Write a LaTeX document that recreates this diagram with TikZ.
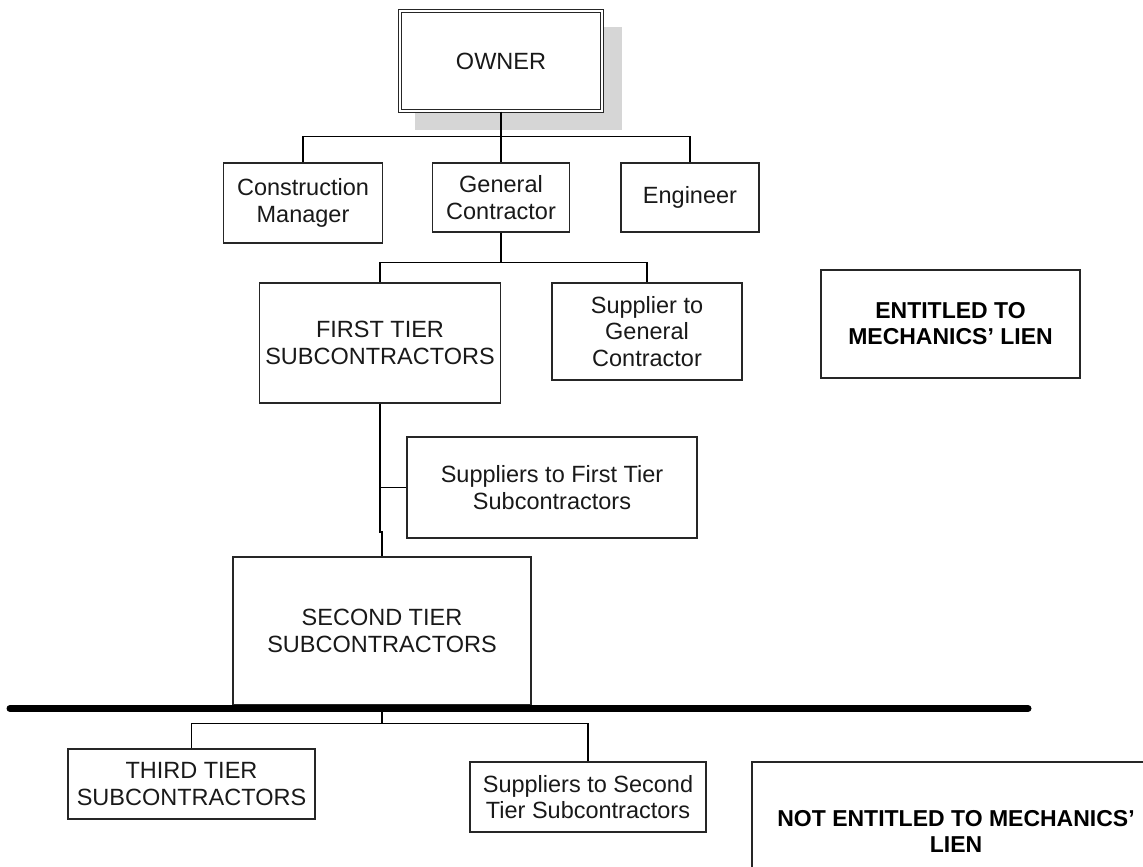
\documentclass[tikz,border=0pt]{standalone}
\usepackage{fontspec}
\setmainfont{Liberation Sans}
\begin{document}
\begin{tikzpicture}[x=1pt,y=-1pt,
  box/.style={draw=black!85, line width=1.2pt, fill=white, inner sep=0pt, align=center,
    text=black!90, font=\fontsize{23.5}{26.5}\selectfont},
  boldbox/.style={box, text=black, font=\fontsize{23}{26}\selectfont\bfseries},
  conn/.style={draw=black, line width=1.2pt},
  divider/.style={draw=black, line width=7pt, line cap=round}]
\useasboundingbox (0,0) rectangle (1143,867);
% shadow of the owner box
\fill[black!16] (415,27) rectangle (622,130);
\node[box, double, double distance=1.8pt, minimum width=202pt, minimum height=100pt] (owner) at (501,61) {OWNER};

\node[box, minimum width=159pt, minimum height=80pt] (cm) at (303,203) {Construction\\Manager};
\node[box, minimum width=137pt, minimum height=69pt] (gc) at (501,197.5) {General\\Contractor};
\node[box, minimum width=138pt, minimum height=69pt] (eng) at (690,197.5) {Engineer};

\node[box, minimum width=241pt, minimum height=120pt] (ft) at (380,343) {FIRST TIER\\SUBCONTRACTORS};
\node[box, minimum width=190pt, minimum height=97pt] (sgc) at (647,331.5) {Supplier to\\General\\Contractor};
\node[box, minimum width=290pt, minimum height=101pt] (sft) at (552,487.5) {Suppliers to First Tier\\Subcontractors};
\node[box, minimum width=298pt, minimum height=148pt] (st) at (382,631) {SECOND TIER\\SUBCONTRACTORS};

\node[box, minimum width=247pt, minimum height=70pt] (tt) at (191.5,784) {THIRD TIER\\SUBCONTRACTORS};
\node[box, minimum width=236pt, minimum height=70pt] (sst) at (588,797) {Suppliers to Second\\Tier Subcontractors};

\node[boldbox, minimum width=259pt, minimum height=108pt] (ent) at (950.5,324) {ENTITLED TO\\MECHANICS' LIEN};
\node[boldbox, minimum width=408pt, minimum height=138pt] (nent) at (956,831) {NOT ENTITLED TO MECHANICS'\\LIEN};

% connectors
\draw[conn] (owner.south) -- ++(0,25) coordinate (j1);
\draw[conn] (cm.north) |- (j1) -| (eng.north);
\draw[conn] (j1) -- (gc.north);

\draw[conn] (gc.south) -- ++(0,30) coordinate (j2);
\draw[conn] (ft.north) |- (j2) -| (sgc.north);

\draw[conn] (ft.south) -- (ft.south |- 0,532) -- (st.north |- 0,532) -- (st.north);
\draw[conn] (sft.west) -- (sft.west -| ft.south);

\coordinate (divL) at (10,708.5);
\coordinate (divR) at (1028,708.5);
\draw[conn] (st.south) -- ++(0,18) coordinate (j4);
\draw[conn] (tt.north) |- (j4) -| (sst.north);
\draw[divider] (divL) -- (divR);
\end{tikzpicture}
\end{document}
